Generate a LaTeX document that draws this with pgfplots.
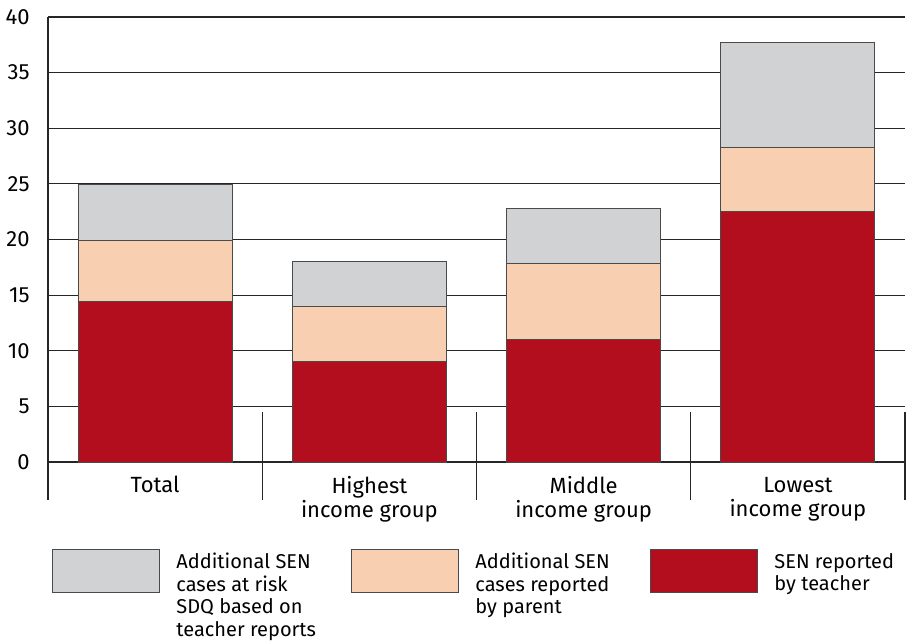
\documentclass[border=0pt]{standalone}
\usepackage{fontspec}
\setmainfont{Fira Sans}
\usepackage{pgfplots}
\pgfplotsset{compat=1.18}

\definecolor{senred}{HTML}{B30E1D}
\definecolor{senpeach}{HTML}{F8CFB0}
\definecolor{sengrey}{HTML}{D1D2D4}
\definecolor{edgegrey}{HTML}{4A4A4A}

\pgfplotsset{
  senkey/.style={legend image code/.code={\draw[##1] (0pt,1.5pt) rectangle (53.5pt,-20pt);}},
}

\begin{document}
\begin{tikzpicture}
\begin{axis}[
    name=ax, at={(0,0)}, anchor=south west,
    scale only axis, width=428.5pt, height=222.5pt,
    ybar stacked, bar width=77pt,
    xmin=-0.5, xmax=3.5, ymin=0, ymax=40,
    xtick={0,1,2,3},
    xticklabels={\vphantom{Hh}Total, {\vphantom{Hh}Highest\\income group}, {\vphantom{Hh}Middle\\income group}, {\vphantom{Hh}Lowest\\income group}},
    ytick={0,5,...,40},
    axis line style={draw=none},
    major tick length=0pt,
    ymajorgrids, grid style={black!85, line width=0.6pt},
    clip=false,
    tick label style={font=\fontsize{11}{12}\selectfont},
    yticklabel style={inner sep=0pt, xshift=-9pt},
    xticklabel style={align=center, anchor=north, inner sep=0pt, yshift=-7pt},
    /pgf/number format/assume math mode=true,
    legend columns=3, reverse legend,
    legend style={at={(axis description cs:0,0)}, anchor=north west,
      xshift=2pt, yshift=-43.5pt, draw=none, fill=none, inner sep=0pt,
      column sep=8pt, cells={anchor=north west},
      nodes={inner sep=0pt, text depth=0pt},
      font=\fontsize{10}{11.25}\selectfont},
]
\addplot[fill=senred, draw=edgegrey, line width=0.5pt, senkey]
  coordinates {(0,14.4) (1,9.0) (2,11.0) (3,22.5)};
\addlegendentry{\parbox[t]{79.5pt}{SEN reported\\by teacher}}
\addplot[fill=senpeach, draw=edgegrey, line width=0.5pt, senkey]
  coordinates {(0,5.5) (1,5.0) (2,6.8) (3,5.75)};
\addlegendentry{\parbox[t]{79.5pt}{Additional SEN\\cases reported\\by parent}}
\addplot[fill=sengrey, draw=edgegrey, line width=0.5pt, senkey]
  coordinates {(0,5.0) (1,4.0) (2,5.0) (3,9.45)};
\addlegendentry{\parbox[t]{79.5pt}{Additional SEN\\cases at risk\\SDQ based on\\teacher reports}}

% axis line and category separators
\draw[black!85, line width=0.6pt] (axis cs:-0.5,40) -- ([yshift=-19pt]axis cs:-0.5,0);
\draw[black!85, line width=0.6pt] (axis cs:0.5,4.5) -- ([yshift=-19pt]axis cs:0.5,0);
\draw[black!85, line width=0.6pt] (axis cs:1.5,4.5) -- ([yshift=-19pt]axis cs:1.5,0);
\draw[black!85, line width=0.6pt] (axis cs:2.5,4.5) -- ([yshift=-19pt]axis cs:2.5,0);
\draw[black!85, line width=0.6pt] (axis cs:3.5,4.5) -- ([yshift=-19pt]axis cs:3.5,0);
\end{axis}
\pgfresetboundingbox
\path (-24pt,-90pt) rectangle (433pt,231pt);
\end{tikzpicture}
\end{document}
